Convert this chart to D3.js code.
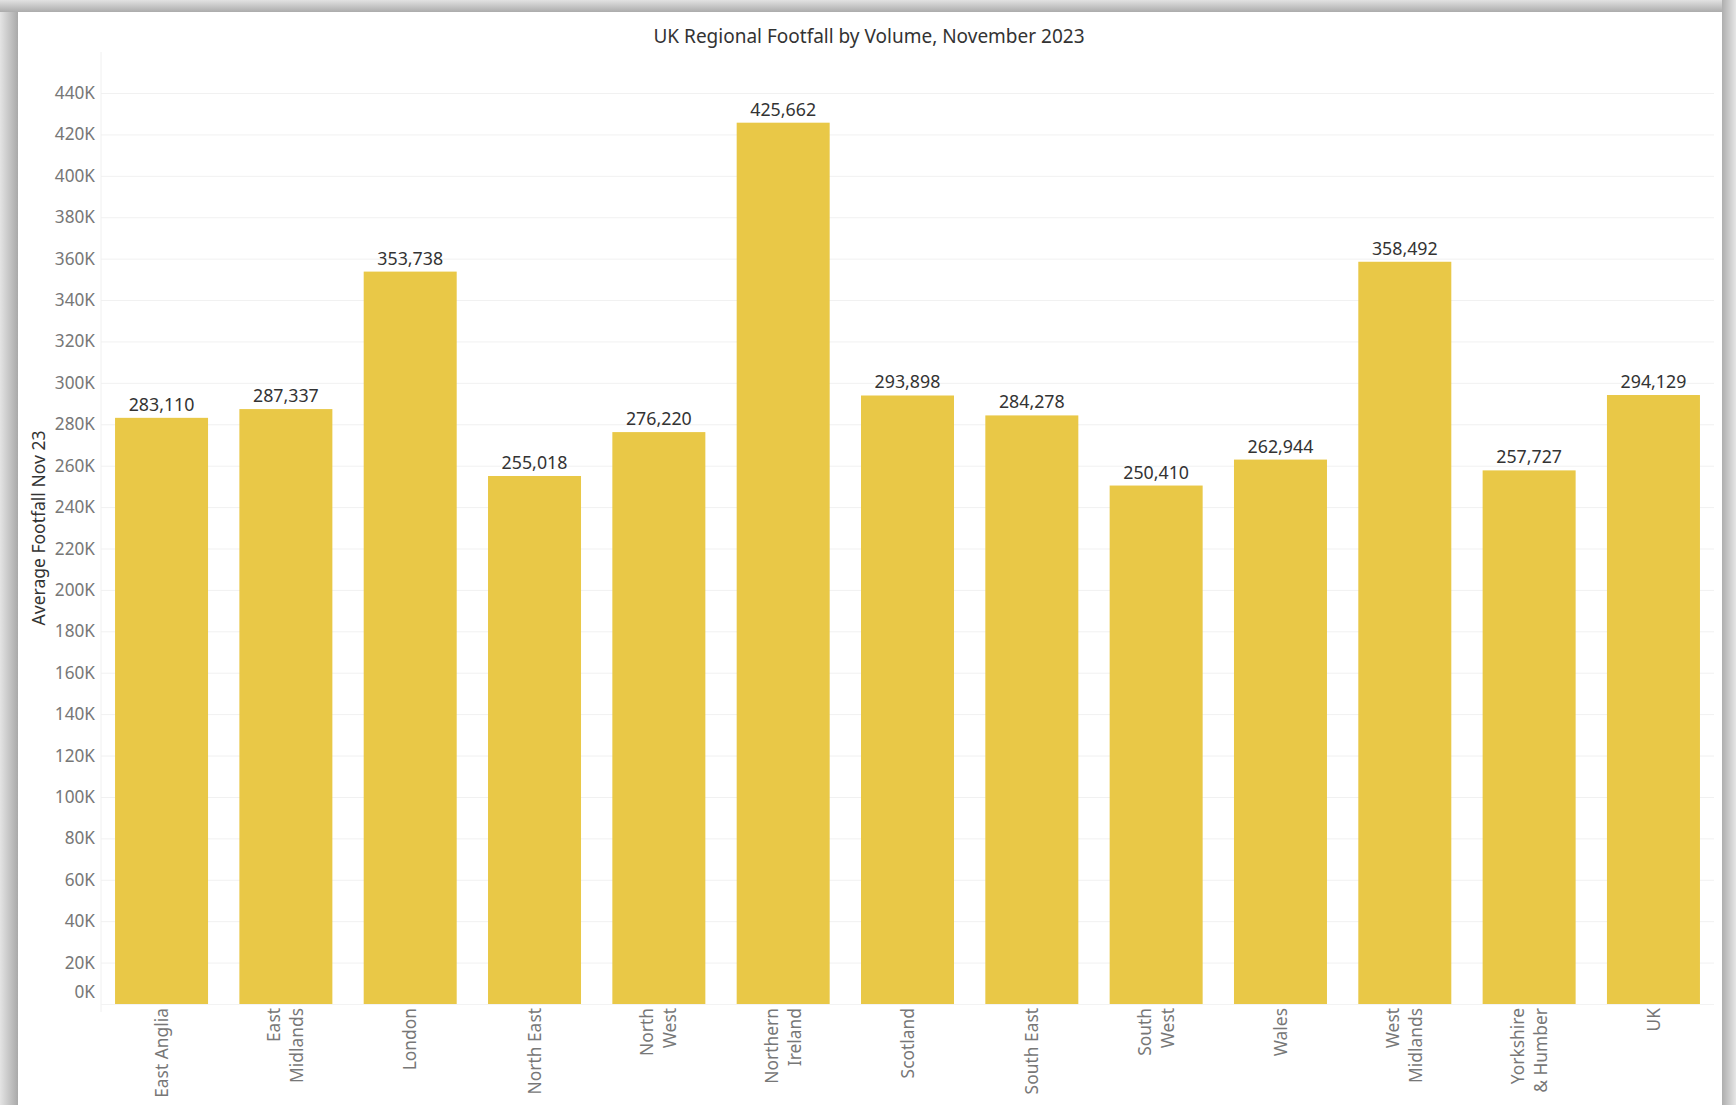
<!DOCTYPE html>
<html>
<head>
<meta charset="utf-8">
<script src="https://cdn.jsdelivr.net/npm/d3@7"></script>
<style>
  html, body { margin: 0; padding: 0; background: #d6d6d6; }
  svg { display: block; font-family: "Noto Sans", "Open Sans", sans-serif; }
</style>
</head>
<body>
<div id="plot"></div>
<script>
d3 = window.d3;

// data
var regions = ["East Anglia", "East Midlands", "London", "North East", "North West",
  "Northern Ireland", "Scotland", "South East", "South West", "Wales",
  "West Midlands", "Yorkshire & Humber", "UK"];
var regionLines = [["East Anglia"], ["East", "Midlands"], ["London"], ["North East"],
  ["North", "West"], ["Northern", "Ireland"], ["Scotland"], ["South East"],
  ["South", "West"], ["Wales"], ["West", "Midlands"], ["Yorkshire", "& Humber"], ["UK"]];
var footfall = [283110, 287337, 353738, 255018, 276220, 425662, 293898,
  284278, 250410, 262944, 358492, 257727, 294129];
var yTicks = [0, 20000, 40000, 60000, 80000, 100000, 120000, 140000, 160000, 180000,
  200000, 220000, 240000, 260000, 280000, 300000, 320000, 340000, 360000, 380000,
  400000, 420000, 440000];

var W = 1736, H = 1105;
var plot = {left: 101, right: 1714, top: 93, bottom: 1004};

var svg = d3.select("#plot")
  .append("svg")
  .attr("width", W)
  .attr("height", H);

// grey frame round the card
var defs = svg.append("defs");
var gl = defs.append("linearGradient").attr("id", "gl").attr("x1", 0).attr("x2", 1);
gl.append("stop").attr("offset", 0).attr("stop-color", "#e4e4e4");
gl.append("stop").attr("offset", 1).attr("stop-color", "#a9a9a9");
var gt = defs.append("linearGradient").attr("id", "gt").attr("x1", 0).attr("x2", 0).attr("y1", 0).attr("y2", 1);
gt.append("stop").attr("offset", 0).attr("stop-color", "#e2e2e2");
gt.append("stop").attr("offset", 1).attr("stop-color", "#acacac");
var gr = defs.append("linearGradient").attr("id", "gr").attr("x1", 0).attr("x2", 1);
gr.append("stop").attr("offset", 0).attr("stop-color", "#aeaeae");
gr.append("stop").attr("offset", 1).attr("stop-color", "#e6e6e6");

svg.append("rect").attr("width", W).attr("height", H).attr("fill", "#dedede");
svg.append("rect").attr("x", 0).attr("y", 0).attr("width", 18).attr("height", H).attr("fill", "url(#gl)");
svg.append("rect").attr("x", 0).attr("y", 0).attr("width", W).attr("height", 12).attr("fill", "url(#gt)");
svg.append("rect").attr("x", 1722).attr("y", 0).attr("width", 14).attr("height", H).attr("fill", "url(#gr)");
svg.append("rect").attr("x", 18).attr("y", 12).attr("width", 1704).attr("height", H - 12).attr("fill", "#ffffff");

// title
svg.append("text")
  .attr("x", 869)
  .attr("y", 43)
  .attr("text-anchor", "middle")
  .attr("fill", "#333")
  .style("font-size", "19px")
  .text("UK Regional Footfall by Volume, November 2023");

// scales
var x = d3.scaleBand()
  .domain(regions)
  .range([plot.left, plot.right])
  .paddingInner(0.252)
  .paddingOuter(0.113);

var y = d3.scaleLinear()
  .domain([0, 440000])
  .range([plot.bottom, plot.top]);

// gridlines
svg.append("g")
  .attr("class", "grid")
  .attr("transform", "translate(" + plot.left + ",0)")
  .call(d3.axisLeft(y).tickValues(yTicks).tickSize(-(plot.right - plot.left)).tickFormat(""))
  .call(g => g.select(".domain").remove())
  .selectAll(".tick line").attr("stroke", "#f1f1f1");

// faint pane edges
svg.append("line")
  .attr("x1", plot.left).attr("x2", plot.left)
  .attr("y1", 52).attr("y2", plot.bottom + 8)
  .attr("stroke", "#f0f0f0");
svg.append("line")
  .attr("x1", plot.left).attr("x2", plot.right)
  .attr("y1", plot.bottom + 0.5).attr("y2", plot.bottom + 0.5)
  .attr("stroke", "#f3f3f3");

// Y axis
var yAxis = svg.append("g")
  .attr("transform", "translate(" + (plot.left - 6) + ",0)")
  .call(d3.axisLeft(y).tickValues(yTicks).tickSize(0).tickPadding(0)
    .tickFormat(d => (d / 1000) + "K"));
yAxis.select(".domain").remove();
yAxis.selectAll("text")
  .attr("fill", "#777")
  .style("font-size", "17.2px")
  .style("font-family", "'Noto Sans', sans-serif")
  .attr("dy", d => d === 0 ? "-0.35em" : "0.32em");

// Y axis label
svg.append("text")
  .attr("transform", "rotate(-90)")
  .attr("x", -528)
  .attr("y", 45)
  .attr("text-anchor", "middle")
  .attr("fill", "#333")
  .style("font-size", "17.5px")
  .text("Average Footfall Nov 23");

// bars
svg.selectAll("rect.bar")
  .data(footfall)
  .enter()
  .append("rect")
  .attr("class", "bar")
  .attr("x", (d, i) => x(regions[i]))
  .attr("y", d => y(d))
  .attr("width", x.bandwidth())
  .attr("height", d => y(0) - y(d))
  .attr("fill", "#e9c847");

// value labels
svg.selectAll("text.val")
  .data(footfall)
  .enter()
  .append("text")
  .attr("class", "val")
  .attr("x", (d, i) => x(regions[i]) + x.bandwidth() / 2)
  .attr("y", d => y(d) - 7)
  .attr("text-anchor", "middle")
  .attr("fill", "#333")
  .style("font-size", "17.8px")
  .text(d => d3.format(",")(d));

// category labels, rotated
var xl = svg.selectAll("g.xl")
  .data(regionLines)
  .enter()
  .append("g")
  .attr("class", "xl")
  .attr("transform", (d, i) => "translate(" + (x(regions[i]) + x.bandwidth() / 2) + "," + (plot.bottom + 4) + ") rotate(-90)");

xl.selectAll("text")
  .data(d => d.map((t, j) => ({t: t, j: j, n: d.length})))
  .enter()
  .append("text")
  .attr("x", 0)
  .attr("y", d => (d.j - (d.n - 1) / 2) * 23)
  .attr("dy", "0.35em")
  .attr("text-anchor", "end")
  .attr("fill", "#777")
  .style("font-size", "17.4px")
  .text(d => d.t);
</script>
</body>
</html>
